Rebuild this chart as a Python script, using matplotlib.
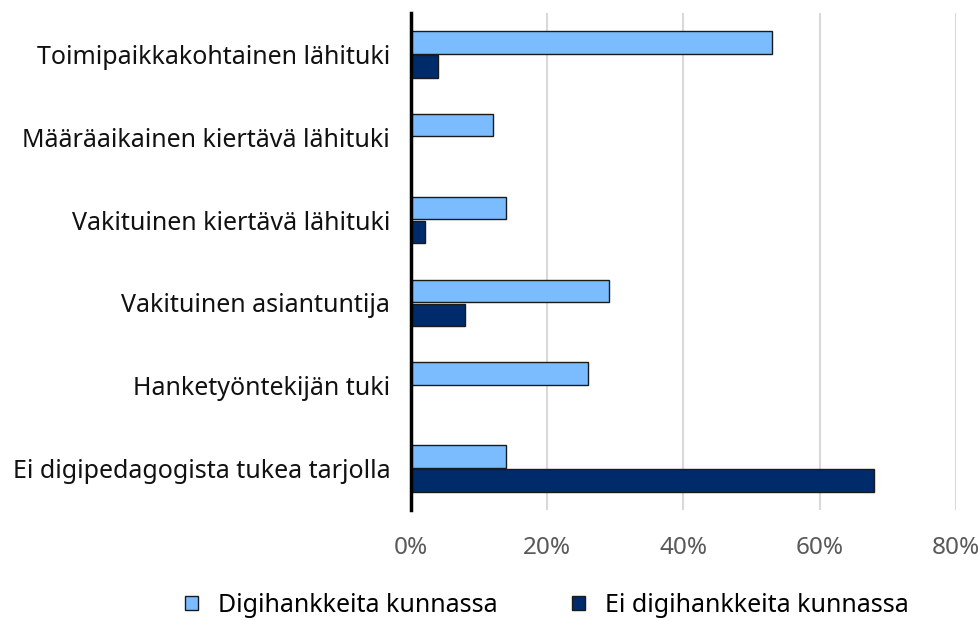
import numpy as np
import matplotlib.pyplot as plt
import matplotlib.ticker as mticker

plt.rcParams['font.family'] = ['Noto Sans', 'DejaVu Sans']

categories = ['Toimipaikkakohtainen lähituki',
              'Määräaikainen kiertävä lähituki',
              'Vakituinen kiertävä lähituki',
              'Vakituinen asiantuntija',
              'Hanketyöntekijän tuki',
              'Ei digipedagogista tukea tarjolla']
digi = [53, 12, 14, 29, 26, 14]
ei_digi = [4, 0, 2, 8, 0, 68]
series_names = ['Digihankkeita kunnassa', 'Ei digihankkeita kunnassa']
xticks = [0, 20, 40, 60, 80]

fig = plt.figure(figsize=(9.79, 6.21), dpi=100)
ax = fig.add_axes([0.4198, 0.179, 0.5567, 0.800])

y = np.arange(len(categories))
h = 0.27
gap = 0.02
ax.barh(y - h / 2 - gap / 2, digi, height=h, color='#7ABCFF', edgecolor='#1a1a1a',
        linewidth=1, label=series_names[0], zorder=3)
ax.barh(y + h / 2 + gap / 2, ei_digi, height=h, color='#002B6B', edgecolor='#1a1a1a',
        linewidth=1, label=series_names[1], zorder=3)

ax.set_ylim(len(categories) - 0.5, -0.5)
ax.set_xlim(0, 80)
ax.set_yticks(y)
ax.set_yticklabels(categories, fontsize=18, color='#111111')
ax.set_xticks(xticks)
ax.xaxis.set_major_formatter(mticker.FuncFormatter(lambda v, p: f'{v:.0f}%'))
ax.tick_params(axis='x', labelsize=17.5, labelcolor='#595959', length=0, pad=19)
ax.tick_params(axis='y', length=0, pad=15)

for s in ['top', 'right', 'bottom']:
    ax.spines[s].set_visible(False)
ax.spines['left'].set_linewidth(2.5)
ax.spines['left'].set_color('black')
ax.spines['left'].set_zorder(4)
ax.grid(axis='x', color='#D9D9D9', linewidth=1.5, zorder=0)
ax.set_axisbelow(True)

fig.legend(loc='center', bbox_to_anchor=(547 / 979, 0.025), ncol=2, frameon=False,
           fontsize=18, handlelength=0.5, handleheight=0.5, handletextpad=0.8,
           columnspacing=3.0, borderpad=0)

fig.savefig('out.png', dpi=100)
